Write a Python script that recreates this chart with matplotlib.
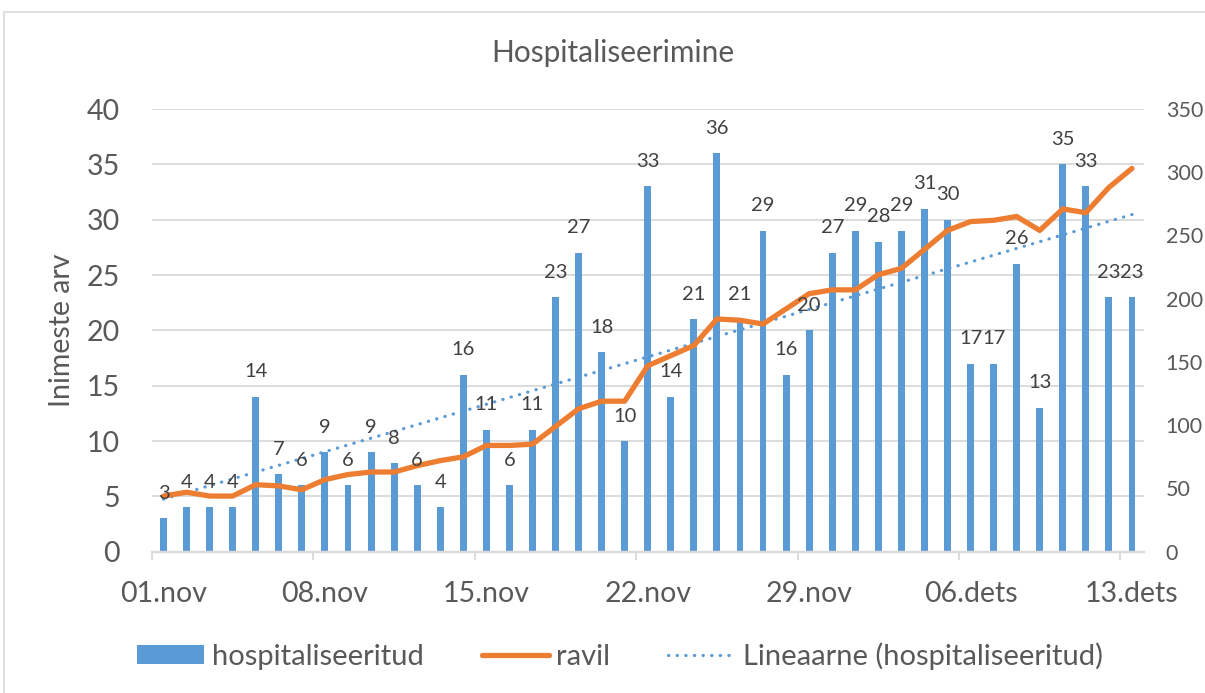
import matplotlib
matplotlib.use("Agg")
import matplotlib.pyplot as plt
import numpy as np
from matplotlib.patches import Patch, Rectangle
from matplotlib.lines import Line2D
from matplotlib.ticker import FixedLocator

# ---------------- data ----------------
days = list(range(1, 44))  # 01.nov ... 13.dets
hospitaliseeritud = [3, 4, 4, 4, 14, 7, 6, 9, 6, 9, 8, 6, 4, 16, 11, 6, 11, 23, 27, 18,
                     10, 33, 14, 21, 36, 21, 29, 16, 20, 27, 29, 28, 29, 31, 30, 17, 17,
                     26, 13, 35, 33, 23, 23]
ravil = [44, 47, 44, 44, 53, 52, 49, 57, 61, 63, 63, 68, 72, 75, 84, 84, 85, 99, 113, 119,
         119, 147, 155, 163, 184, 183, 180, 192, 204, 207, 207, 219, 224, 239, 254, 261,
         262, 265, 254, 271, 268, 288, 303]
tick_days = [1, 8, 15, 22, 29, 36, 43]
tick_labels = ["01.nov", "08.nov", "15.nov", "22.nov", "29.nov", "06.dets", "13.dets"]

title = "Hospitaliseerimine"
ylabel = "Inimeste arv"
legend_labels = ["hospitaliseeritud", "ravil", "Lineaarne (hospitaliseeritud)"]

# ---------------- style ----------------
BLUE = "#5B9BD5"
ORANGE = "#ED7D31"
GRID = "#D9D9D9"
TXT = "#595959"
LBL = "#404040"
FONT = ["Lato", "DejaVu Sans"]
plt.rcParams["font.family"] = FONT

W, H = 1205, 693
fig = plt.figure(figsize=(W / 100, H / 100), dpi=100)

# chart border
fig.patches.append(Rectangle((4 / W, -0.05), 1.2, 1 - 12 / H + 0.05, transform=fig.transFigure,
                             fill=False, edgecolor=GRID, lw=1.2))

left, right = 152 / W, 1143.5 / W
bottom, top = 1 - 551.7 / H, 1 - 109 / H
ax = fig.add_axes([left, bottom, right - left, top - bottom])
ax2 = ax.twinx()

x = np.array(days)
y = np.array(hospitaliseeritud)

ax.bar(x, y, width=0.3, color=BLUE, zorder=2)

DOT = (0, (0.1, 2.6))
# linear trendline
k, b = np.polyfit(x, y, 1)
ax.plot(x, k * x + b, color=BLUE, lw=2.3, linestyle=DOT,
        dash_capstyle="round", zorder=3)

ax2.plot(x, ravil, color=ORANGE, lw=3.8, solid_joinstyle="round",
         solid_capstyle="round", zorder=4)

# data labels (on top of everything)
for xi, yi in zip(x, y):
    ax2.annotate(str(yi), xy=(xi, yi), xycoords=ax.transData,
                 xytext=(0, 18), textcoords="offset points",
                 ha="center", va="center", fontsize=14.5, color=LBL, zorder=6)

# axes
ax.set_xlim(0.5, 43.5)
ax.set_ylim(0, 40)
ax2.set_ylim(0, 350)
ax.set_yticks(np.arange(0, 41, 5))
ax2.set_yticks(np.arange(0, 351, 50))
ax.yaxis.grid(True, color=GRID, lw=1.3, zorder=0)
ax.set_axisbelow(True)

ax.set_xticks(tick_days)
ax.set_xticklabels(tick_labels)
ax.xaxis.set_minor_locator(FixedLocator(np.arange(0.5, 43, 7)))
ax.tick_params(axis="x", which="major", length=0, pad=21, labelsize=20.5, labelcolor=TXT)
ax.tick_params(axis="x", which="minor", length=6, width=1.3, color=GRID)
ax.tick_params(axis="y", length=0, pad=23, labelsize=20.5, labelcolor=TXT)
ax2.tick_params(axis="y", length=0, pad=16, labelsize=15.5, labelcolor=TXT)

for a in (ax, ax2):
    for s in ("top", "left", "right"):
        a.spines[s].set_visible(False)
    a.spines["bottom"].set_color(GRID)
    a.spines["bottom"].set_linewidth(1.6)

ax.set_ylabel(ylabel, fontsize=20.5, color=TXT)
ax.yaxis.set_label_coords(-0.078, 0.5)
fig.text(613 / W, 1 - 53 / H, title, ha="center", va="center", fontsize=21.5, color=TXT)

handles = [Patch(facecolor=BLUE, edgecolor="none"),
           Line2D([], [], color=ORANGE, lw=3.8, solid_capstyle="round"),
           Line2D([], [], color=BLUE, lw=2.3, linestyle=DOT, dash_capstyle="round")]
leg = fig.legend(handles, legend_labels, loc="center", bbox_to_anchor=(620 / W, 1 - 656 / H),
                 ncol=3, frameon=False, fontsize=21, handlelength=2.3, handleheight=0.62,
                 handletextpad=0.25, columnspacing=2.0, labelcolor=TXT)

fig.savefig("out.png", dpi=100, facecolor="white")
